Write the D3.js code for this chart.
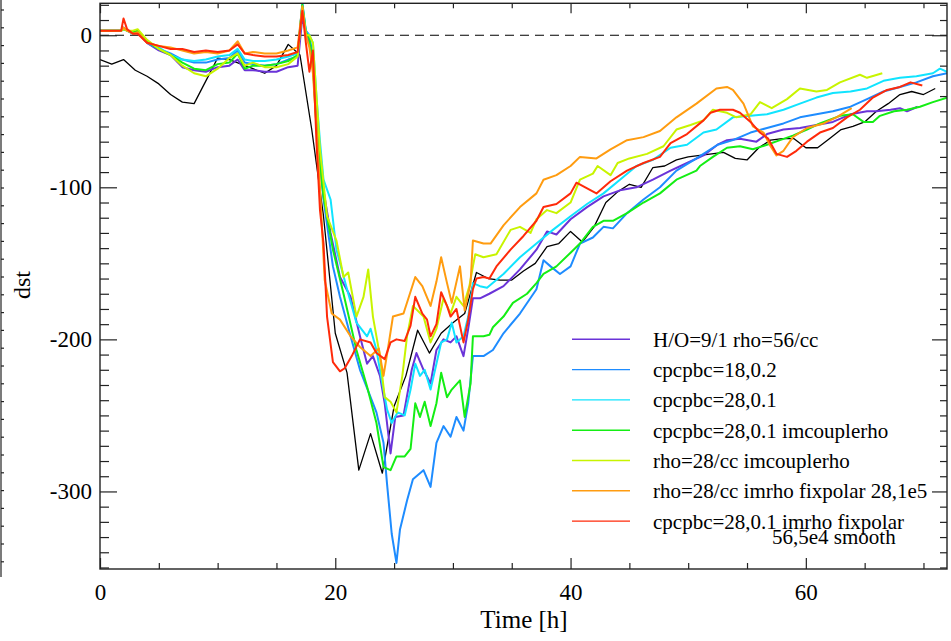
<!DOCTYPE html>
<html>
<head>
<meta charset="utf-8">
<script src="https://cdn.jsdelivr.net/npm/d3@7"></script>
<style>
  body { margin: 0; background: #fff; }
  svg { display: block; }
  text { font-family: "Liberation Serif", "Times New Roman", serif; fill: #000; }
</style>
</head>
<body>
<svg id="chart" width="951" height="641"></svg>
<script>
// observed dst (hourly)
const observed = [[0,-16],[1,-19],[2,-16],[3,-23],[4,-27],[5,-32],[6,-39],[7,-44],[8,-45],[9,-30],[10,-15],[11,-16],[12,-19],[13,-22],[14,-25],[15,-20],[16,-6],[17,-13],[18,-62],[19,-119],[20,-196],[21,-222],[22,-286],[23,-262],[24,-288],[25,-244],[26,-224],[27,-194],[28,-209],[29,-196],[30,-189],[31,-183],[32,-156],[33,-160],[34,-161],[35,-161],[36,-155],[37,-150],[38,-139],[39,-137],[40,-129],[41,-136],[42,-126],[43,-110],[44,-103],[45,-98],[46,-100],[47,-87],[48,-86],[49,-82],[50,-80],[51,-79],[52,-78],[53,-77],[54,-81],[55,-82],[56,-74],[57,-69],[58,-68],[59,-68],[60,-74],[61,-74],[62,-68],[63,-62],[64,-60],[65,-57],[66,-50],[67,-45],[68,-39],[69,-37],[70,-39],[71,-35]];

const hoRho56 = [[0,3],[1,3],[1.8,3],[2,5],[2.3,3],[2.8,1],[3.2,2],[4,-5],[5,-10],[6,-13],[7,-21],[8,-23],[9,-24],[10,-21],[11,-20],[11.7,-16],[12.3,-23],[13,-23],[14,-24],[15,-24],[16,-21],[16.8,-20],[17.2,12],[17.5,2],[17.8,-5],[18.1,-20],[18.4,-55],[18.7,-80],[19,-102],[19.6,-130],[20.4,-159],[21.3,-172],[22.1,-198],[22.7,-216],[23.2,-211],[23.8,-224],[24.2,-242],[24.7,-275],[25.1,-251],[25.8,-250],[26.5,-220],[26.9,-209],[27.5,-220],[28.1,-229],[28.6,-207],[29.2,-200],[29.8,-202],[30.3,-198],[30.9,-211],[31.3,-193],[31.7,-173],[32.3,-173],[33.1,-170],[34.3,-165],[35.7,-154],[37.1,-141],[38,-129],[38.8,-131],[40,-121],[41.4,-113],[42.8,-106],[44.2,-102],[45.6,-100],[47,-95],[48.5,-89],[49.9,-84],[51.3,-79],[52.5,-72],[53.3,-69],[54.4,-68],[55.8,-70],[56.7,-65],[58.1,-62],[59.5,-61],[60.9,-59],[62.3,-57],[63.8,-52],[65.2,-50],[66,-50],[67.2,-49],[68,-48],[68.6,-50],[69.5,-47]];

const cpcp18 = [[0,3],[1,3],[1.8,3],[2,4],[2.3,3],[2.8,1],[3.2,2],[4,-5],[5,-9],[6,-12],[7,-16],[8,-18],[9,-18],[10,-16],[11,-15],[11.7,-10],[12.3,-18],[13,-19],[14,-20],[15,-19],[16,-16],[16.8,-14],[17.2,21],[17.5,3],[17.8,0],[18.1,-15],[18.4,-55],[18.7,-85],[19,-108],[19.8,-152],[20.4,-172],[21.3,-198],[22.1,-220],[23,-238],[23.5,-248],[24.1,-268],[24.4,-295],[24.8,-328],[25.2,-347],[25.5,-325],[26.1,-306],[26.6,-292],[27.5,-286],[28.1,-297],[28.6,-268],[29.2,-257],[29.8,-264],[30.3,-251],[30.9,-260],[31.3,-242],[31.7,-211],[32.6,-211],[33.4,-207],[34.3,-196],[35.7,-183],[37.1,-167],[37.7,-148],[38.3,-152],[39.1,-157],[40,-152],[40.8,-137],[41.9,-133],[42.8,-126],[43.6,-127],[44.8,-117],[46.2,-108],[47.6,-100],[49,-89],[50.7,-81],[52.5,-72],[53.8,-69],[55.3,-64],[56.7,-61],[58.1,-58],[59.5,-54],[60.9,-52],[62.3,-50],[63.8,-47],[65.2,-42],[66.6,-37],[68,-34],[69.4,-31],[70.8,-27],[72,-25]];

const cpcp28 = [[0,3],[1,3],[1.8,3],[2,4],[2.3,3],[2.8,1],[3.2,2],[4,-4],[5,-8],[6,-13],[7,-16],[8,-17],[9,-16],[10,-14],[11,-13],[11.7,-9],[12.3,-16],[13,-17],[14,-17],[15,-16],[16,-14],[16.8,-12],[17.2,21],[17.5,2],[17.8,0],[18.1,-5],[18.4,-40],[18.7,-70],[19,-95],[19.6,-108],[20.1,-141],[21,-167],[21.8,-189],[22.7,-198],[23,-193],[23.5,-207],[24,-229],[24.4,-246],[24.8,-255],[25.3,-248],[25.9,-250],[26.4,-233],[26.8,-216],[27.2,-224],[27.6,-220],[28.1,-233],[28.6,-216],[29,-202],[29.5,-200],[29.9,-189],[30.3,-202],[30.9,-198],[31.3,-185],[31.7,-163],[32.3,-165],[32.9,-166],[34.3,-157],[35.7,-146],[37.1,-137],[38.5,-128],[40,-119],[41.4,-111],[42.8,-104],[44.2,-95],[45.6,-86],[47,-82],[48.5,-74],[49.9,-72],[51.3,-64],[52.4,-62],[53.8,-54],[55.3,-53],[56.7,-52],[58.1,-49],[59.5,-45],[60.9,-41],[62.3,-38],[63.8,-37],[65.2,-35],[66.6,-30],[68,-28],[69.4,-27],[70.8,-25],[71.4,-22],[72,-24]];

const cpcp28Im = [[0,3],[1,3],[1.8,3],[2,4],[2.3,3],[2.8,2],[3.2,3],[4,-4],[5,-9],[6,-13],[7,-18],[8,-22],[9,-23],[10,-19],[11,-18],[11.7,-12],[12.3,-22],[13,-20],[14,-20],[15,-19],[16,-17],[16.8,-13],[17.2,20],[17.5,2],[17.8,-2],[18.1,-20],[18.4,-60],[18.7,-85],[19,-106],[19.8,-141],[20.7,-170],[21.8,-207],[22.7,-231],[23.5,-255],[24.1,-284],[24.7,-286],[25.2,-277],[25.9,-277],[26.4,-272],[26.8,-242],[27.2,-251],[27.6,-241],[28.1,-257],[28.6,-242],[29,-222],[29.5,-238],[29.9,-233],[30.6,-227],[31,-251],[31.5,-229],[31.7,-198],[32.6,-198],[33.1,-197],[33.4,-192],[34.3,-185],[35.1,-176],[36.3,-170],[37.1,-163],[37.7,-157],[38.8,-152],[40,-143],[40.8,-137],[41.9,-126],[42.8,-122],[43.6,-122],[44.8,-117],[46.2,-110],[47.6,-104],[49,-95],[50.7,-89],[51,-86],[52.1,-80],[53.3,-74],[54.4,-73],[55.5,-75],[56.7,-72],[57.8,-69],[58.9,-66],[60.1,-62],[61.2,-58],[62.9,-53],[64,-52],[64.9,-57],[65.7,-57],[66.3,-53],[67.5,-50],[68.6,-49],[69.7,-47],[70.8,-44],[72,-41]];

const rho28Im = [[0,3],[1,3],[1.8,3],[2,4],[2.3,3],[2.8,3],[3.2,4],[4,-3],[5,-9],[6,-13],[7,-20],[8,-25],[9,-27],[10,-22],[11,-15],[11.7,-12],[12.3,-20],[13,-18],[14,-21],[15,-21],[16,-19],[16.8,-14],[17.2,18],[17.5,0],[17.8,0],[18.1,-5],[18.4,-40],[18.7,-75],[19.3,-119],[20.1,-135],[20.7,-159],[21.1,-156],[21.8,-185],[22.4,-172],[22.8,-154],[23.2,-185],[23.8,-211],[24.2,-238],[24.7,-241],[25.2,-248],[25.7,-224],[26.1,-198],[26.6,-178],[27.5,-185],[28.1,-202],[28.6,-193],[29.2,-173],[29.8,-183],[30.3,-172],[30.9,-178],[31.4,-165],[31.7,-152],[31.9,-144],[32.6,-146],[33.7,-144],[34.9,-128],[35.7,-126],[36.6,-130],[37.1,-121],[38,-115],[38.8,-117],[40,-110],[40.8,-95],[41.9,-91],[42.3,-86],[43.4,-92],[44,-84],[45,-81],[46.5,-78],[47.9,-73],[49,-62],[50.2,-59],[51.3,-56],[52.1,-49],[53.3,-51],[54.1,-54],[55.3,-52],[56.1,-44],[57.1,-48],[58.4,-42],[59.5,-35],[60.9,-37],[61.8,-36],[62.9,-31],[64.6,-26],[65.2,-28],[66.5,-25]];

const rho28Fix = [[0,3],[1,3],[1.8,3],[2,5],[2.3,3],[2.8,1],[3.2,2],[4,-5],[5,-7],[6,-8],[7,-10],[8,-12],[9,-11],[10,-12],[11,-10],[11.7,-4],[12.3,-12],[13,-11],[14,-12],[15,-12],[16,-10],[16.8,-8],[17.2,19],[17.5,0],[17.8,-8],[18.1,-25],[18.4,-60],[18.7,-100],[19.1,-161],[19.7,-183],[20.4,-187],[21.3,-198],[22.1,-205],[23,-211],[23.7,-206],[24.1,-224],[24.5,-205],[24.9,-185],[25.8,-183],[26.8,-159],[27.4,-165],[28.1,-178],[28.6,-162],[29,-146],[29.5,-163],[29.9,-176],[30.6,-152],[31,-181],[31.5,-163],[31.7,-135],[32.6,-137],[33.2,-137],[34.3,-125],[35.7,-113],[37.1,-104],[37.7,-95],[38.8,-92],[40,-86],[40.8,-80],[42.2,-81],[43.4,-75],[44.8,-69],[46.2,-67],[47.6,-63],[49,-54],[50.7,-45],[52.4,-35],[53.3,-34],[53.8,-36],[54.7,-45],[55.5,-60],[56.4,-64],[57,-73],[57.5,-79],[58.1,-76],[58.9,-67],[60.1,-61],[61.5,-58],[62.6,-54],[63.9,-48]];

const cpcp28Fix = [[0,3],[1,3],[1.8,3],[2,11],[2.3,4],[2.8,1],[3.2,1],[4,-5],[5,-7],[6,-9],[7,-9],[8,-11],[9,-10],[10,-11],[11,-10],[11.7,-6],[12.3,-12],[13,-13],[14,-14],[15,-14],[16,-13],[16.8,-11],[17.2,16],[17.5,-5],[17.8,-24],[18.1,-10],[18.4,-70],[18.7,-115],[19,-137],[19.3,-185],[19.8,-215],[20.4,-221],[20.8,-219],[21.4,-211],[22.1,-200],[23,-202],[23.5,-209],[24.2,-213],[24.7,-202],[25.2,-200],[25.9,-201],[26.4,-191],[26.8,-172],[27.4,-183],[27.8,-187],[28.1,-198],[28.6,-190],[29,-169],[29.5,-178],[29.8,-185],[30.3,-180],[30.9,-202],[31.3,-187],[31.7,-167],[32,-160],[32.6,-159],[33.1,-160],[33.7,-152],[34.9,-141],[36,-132],[37.1,-122],[37.7,-113],[38.8,-111],[40,-104],[40.5,-97],[42.2,-104],[43.4,-96],[44.8,-89],[46.2,-84],[47.6,-80],[48.5,-71],[49.9,-65],[51.3,-56],[51.9,-51],[52.7,-49],[53.8,-49],[54.4,-51],[55.3,-57],[56.1,-64],[56.8,-68],[57.5,-78],[58.4,-80],[59.2,-76],[60.1,-70],[61.2,-64],[62.3,-61],[63.5,-54],[64.6,-49],[65.7,-41],[66.9,-36],[68,-34],[68.9,-31],[69.9,-33]];

const runNames = ['H/O=9/1 rho=56/cc', 'cpcpbc=18,0.2', 'cpcpbc=28,0.1',
  'cpcpbc=28,0.1 imcouplerho', 'rho=28/cc imcouplerho',
  'rho=28/cc imrho fixpolar 28,1e5', 'cpcpbc=28,0.1 imrho fixpolar'];
const runData = [hoRho56, cpcp18, cpcp28, cpcp28Im, rho28Im, rho28Fix, cpcp28Fix];
const runColors = ['#6a33d8', '#1e8cff', '#10e4ff', '#14ee14', '#c8f400', '#ff9c10', '#ff2a0a'];

const xMajor = [0, 20, 40, 60];
const yMajor = [0, -100, -200, -300];

const svg = d3.select('#chart');
const plotLeft = 100, plotRight = 947, plotTop = 3.3, plotBottom = 569;

const x = d3.scaleLinear().domain([0, 72]).range([plotLeft, plotRight]);
const y = d3.scaleLinear().domain([-351, 21]).range([plotBottom, plotTop]);

svg.append('defs').append('clipPath').attr('id', 'plotClip')
    .append('rect')
    .attr('x', plotLeft).attr('y', plotTop)
    .attr('width', plotRight - plotLeft).attr('height', plotBottom - plotTop);

// leftover axis of the neighbouring panel at the very left edge
const stub = svg.append('g').attr('stroke', '#222').attr('stroke-width', 1.2);
stub.append('line').attr('x1', 1).attr('x2', 1).attr('y1', 0).attr('y2', 577);
d3.range(10, 577, 17.8).forEach((yy) => {
  stub.append('line').attr('x1', 1).attr('x2', 4).attr('y1', yy).attr('y2', yy);
});

// zero line
svg.append('line')
    .attr('x1', plotLeft).attr('x2', plotRight)
    .attr('y1', y(0)).attr('y2', y(0))
    .attr('stroke', '#000').attr('stroke-width', 1.1)
    .attr('stroke-dasharray', '9,6');

const line = d3.line().x((d) => x(d[0])).y((d) => y(d[1]));
const plot = svg.append('g').attr('clip-path', 'url(#plotClip)');

plot.append('path').datum(observed)
    .attr('fill', 'none').attr('stroke', '#000').attr('stroke-width', 1.3)
    .attr('stroke-linejoin', 'round')
    .attr('d', line);

runData.forEach((series, i) => {
  plot.append('path').datum(series)
      .attr('fill', 'none')
      .attr('stroke', runColors[i])
      .attr('stroke-width', 2)
      .attr('stroke-linejoin', 'round')
      .attr('d', line);
});

// axes, IDL style: ticks on all four sides, pointing inward
const tickStyle = (g) => {
  g.select('.domain').remove();
  g.selectAll('.tick line').attr('stroke', '#222').attr('stroke-width', 1.2);
  g.selectAll('.tick text').style('font-size', '23px')
      .style('font-family', '"Liberation Serif", "Times New Roman", serif');
};
const yMinor = d3.range(-350, 21, 10).filter((v) => v % 100 !== 0);
const xMinor = d3.range(0, 73, 5).filter((v) => v % 20 !== 0);

svg.append('g').attr('transform', `translate(${plotLeft},0)`)
    .call(d3.axisLeft(y).tickValues(yMajor).tickSizeInner(-17).tickSizeOuter(0)
        .tickPadding(8).tickFormat((d) => String(d)))
    .call(tickStyle);
svg.append('g').attr('transform', `translate(${plotLeft},0)`)
    .call(d3.axisLeft(y).tickValues(yMinor).tickSizeInner(-9).tickSizeOuter(0).tickFormat(''))
    .call(tickStyle);
svg.append('g').attr('transform', `translate(${plotRight},0)`)
    .call(d3.axisRight(y).tickValues(yMajor).tickSizeInner(-15).tickSizeOuter(0).tickFormat(''))
    .call(tickStyle);
svg.append('g').attr('transform', `translate(${plotRight},0)`)
    .call(d3.axisRight(y).tickValues(yMinor).tickSizeInner(-7).tickSizeOuter(0).tickFormat(''))
    .call(tickStyle);

svg.append('g').attr('transform', `translate(0,${plotBottom})`)
    .call(d3.axisBottom(x).tickValues(xMajor).tickSizeInner(-11).tickSizeOuter(0)
        .tickPadding(15).tickFormat((d) => String(d)))
    .call(tickStyle);
svg.append('g').attr('transform', `translate(0,${plotBottom})`)
    .call(d3.axisBottom(x).tickValues(xMinor).tickSizeInner(-6).tickSizeOuter(0).tickFormat(''))
    .call(tickStyle);
svg.append('g').attr('transform', `translate(0,${plotTop})`)
    .call(d3.axisTop(x).tickValues(xMajor).tickSizeInner(-10).tickSizeOuter(0).tickFormat(''))
    .call(tickStyle);
svg.append('g').attr('transform', `translate(0,${plotTop})`)
    .call(d3.axisTop(x).tickValues(xMinor).tickSizeInner(-5).tickSizeOuter(0).tickFormat(''))
    .call(tickStyle);

// frame
svg.append('rect')
    .attr('x', plotLeft).attr('y', plotTop)
    .attr('width', plotRight - plotLeft).attr('height', plotBottom - plotTop)
    .attr('fill', 'none').attr('stroke', '#222').attr('stroke-width', 1.4);

// axis titles
svg.append('text')
    .attr('x', 524).attr('y', 628)
    .attr('text-anchor', 'middle').style('font-size', '25px')
    .text('Time [h]');
svg.append('text')
    .attr('transform', 'translate(30,285) rotate(-90)')
    .attr('text-anchor', 'middle').style('font-size', '24px')
    .text('dst');

// legend
const legend = svg.append('g');
runNames.forEach((name, i) => {
  const ly = 339.3 + i * 30.3;
  legend.append('line')
      .attr('x1', 572).attr('x2', 630).attr('y1', ly).attr('y2', ly)
      .attr('stroke', runColors[i]).attr('stroke-width', 1.4);
  legend.append('text')
      .attr('x', 653).attr('y', ly + 7.5)
      .style('font-size', '21px')
      .text(name);
});
legend.append('text')
    .attr('x', 772).attr('y', 544)
    .style('font-size', '21px')
    .text('56,5e4 smooth');
</script>
</body>
</html>
